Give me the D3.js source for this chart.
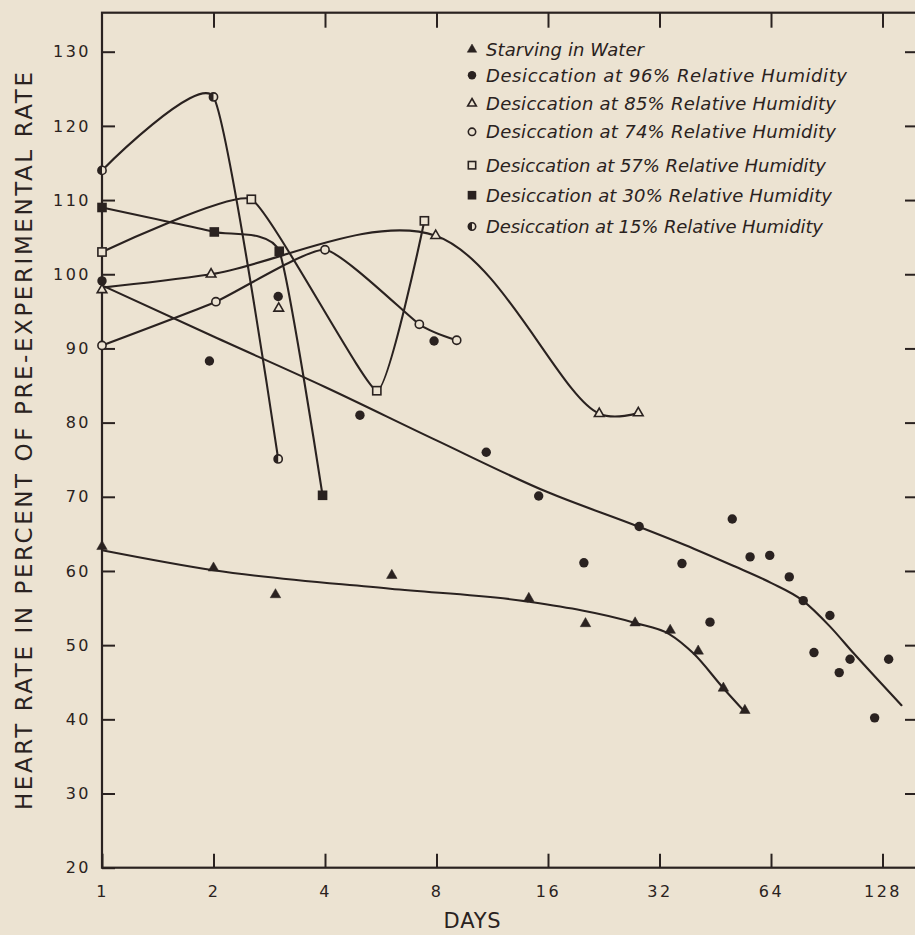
<!DOCTYPE html>
<html><head><meta charset="utf-8">
<script src="https://cdn.jsdelivr.net/npm/d3@7"></script>
<style>
html,body{margin:0;padding:0;background:#ece3d2;}
svg{display:block;}
</style></head><body>
<svg id="chart" width="915" height="935"></svg>
<script>
// ---------- data ----------
const xTickDays = [1, 2, 4, 8, 16, 32, 64, 128];
const yTickRates = [20, 30, 40, 50, 60, 70, 80, 90, 100, 110, 120, 130];
const legendLabels = [
  "Starving in Water",
  "Desiccation at 96% Relative Humidity",
  "Desiccation at 85% Relative Humidity",
  "Desiccation at 74% Relative Humidity",
  "Desiccation at 57% Relative Humidity",
  "Desiccation at 30% Relative Humidity",
  "Desiccation at 15% Relative Humidity"
];

// Starving in water (filled triangles) + hand-fitted curve
const starveDays = [1, 2, 2.94, 6.06, 14.2, 20.2, 27.5, 34.2, 40.7, 47.6, 54.4];
const starveRate = [63.3, 60.4, 56.8, 59.4, 56.3, 52.9, 53.0, 52.0, 49.2, 44.2, 41.2];
const starveCurveDays = [1, 2, 6, 14, 27.5, 34, 39.5, 47.6, 54.4];
const starveCurveRate = [62.8, 60.1, 57.6, 55.9, 53.0, 51.5, 48.9, 44.2, 41.0];

// 96% RH (filled circles) + hand-fitted curve
const rh96Days = [1, 1.95, 2.99, 4.97, 7.88, 10.9, 15.1, 20.0, 28.2, 36.8, 43.8, 50.3, 56.2, 63.5, 71.7, 78.2, 83.6, 92.3, 97.8, 104.6, 121.9, 133];
const rh96Rate = [99.1, 88.3, 97.0, 81.0, 91.0, 76.0, 70.1, 61.1, 66.0, 61.0, 53.1, 67.0, 61.9, 62.1, 59.2, 56.0, 49.0, 54.0, 46.3, 48.1, 40.2, 48.1];
const rh96CurveDays = [1, 2, 4, 8, 16, 28, 39.6, 50.6, 64, 78, 92, 107, 144];
const rh96CurveRate = [98.5, 91.6, 84.8, 77.6, 70.6, 66.0, 63.0, 60.7, 58.4, 56.0, 52.6, 48.9, 41.9];

// 85% RH (open triangles); the day-3 point is not on the curve
const rh85Days = [1, 1.97, 3, 7.96, 22, 28.05];
const rh85Rate = [97.9, 100.0, 95.4, 105.2, 81.2, 81.3];
const rh85CurveDays = [1, 1.97, 7.96, 22, 28.05];
const rh85CurveRate = [98.2, 100.0, 105.2, 81.2, 81.3];

// 74% RH (open circles)
const rh74Days = [1, 2.03, 4, 7.19, 9.07];
const rh74Rate = [90.4, 96.3, 103.3, 93.25, 91.1];

// 57% RH (open squares)
const rh57Days = [1, 2.53, 5.52, 7.42];
const rh57Rate = [103.0, 110.1, 84.3, 107.2];

// 30% RH (filled squares)
const rh30Days = [1, 2.01, 3.01, 3.94];
const rh30Rate = [109.0, 105.7, 103.1, 70.2];

// 15% RH (half-filled circles)
const rh15Days = [1, 2, 2.99];
const rh15Rate = [114.0, 123.9, 75.1];

// ---------- layout / style ----------
const BG = "#ece3d2", INK = "#2a2220";
const plotLeft = 102, plotTop = 12.7, plotBottom = 867.7, plotRight = 917;
const svg = d3.select("#chart");
svg.append("rect").attr("width", 915).attr("height", 935).attr("fill", BG);

const x = d3.scaleLog().base(2).domain([1, 128]).range([102, 882.5]);
const y = d3.scaleLinear().domain([20, 130]).range([867.7, 51.7]);

const axisFont = "'DejaVu Sans', sans-serif";

function styleAxis(g) {
  g.select(".domain").remove();
  g.selectAll(".tick line").attr("stroke", INK).attr("stroke-width", 2);
  g.selectAll(".tick text").attr("fill", INK).attr("font-family", axisFont)
    .attr("font-size", 16).attr("letter-spacing", "2.5px");
}

// left axis
svg.append("g").attr("transform", `translate(${plotLeft},0)`)
  .call(d3.axisLeft(y).tickValues(yTickRates).tickSize(-13).tickPadding(11).tickFormat(d3.format("d")))
  .call(styleAxis);
// right axis ticks (inward)
svg.append("g").attr("transform", `translate(${plotRight},0)`)
  .call(d3.axisRight(y).tickValues(yTickRates.slice(1)).tickSize(-12).tickFormat(""))
  .call(styleAxis);
// bottom axis
svg.append("g").attr("transform", `translate(0,${plotBottom})`)
  .call(d3.axisBottom(x).tickValues(xTickDays).tickSize(-14).tickPadding(18).tickFormat(d3.format("d")))
  .call(styleAxis);
// top axis ticks (inward)
svg.append("g").attr("transform", `translate(0,${plotTop})`)
  .call(d3.axisTop(x).tickValues(xTickDays.slice(1)).tickSize(-15).tickFormat(""))
  .call(styleAxis);

// frame
svg.append("rect").attr("x", plotLeft).attr("y", plotTop)
  .attr("width", plotRight - plotLeft).attr("height", plotBottom - plotTop)
  .attr("fill", "none").attr("stroke", INK).attr("stroke-width", 2.2);

// axis titles
svg.append("text").attr("transform", `translate(31.5,441) rotate(-90)`)
  .attr("text-anchor", "middle").attr("font-family", axisFont).attr("font-size", 23)
  .attr("fill", INK).attr("textLength", 738).attr("lengthAdjust", "spacing")
  .text("HEART RATE IN PERCENT OF PRE-EXPERIMENTAL RATE");
svg.append("text").attr("x", 472.5).attr("y", 928)
  .attr("text-anchor", "middle").attr("font-family", axisFont).attr("font-size", 21)
  .attr("letter-spacing", "0.8px").attr("fill", INK).text("DAYS");

// ---------- markers ----------
function drawMarker(g, kind, cx, cy, scale = 1) {
  const s = scale;
  if (kind === "triFilled" || kind === "triOpen") {
    const open = kind === "triOpen";
    g.append("path").attr("transform", `translate(${cx},${cy})`)
      .attr("d", d3.symbol().type(d3.symbolTriangle).size((open ? 40 : 48) * s * s)())
      .attr("fill", open ? BG : INK).attr("stroke", INK).attr("stroke-width", open ? 1.6 : 0.5);
  } else if (kind === "circFilled") {
    g.append("circle").attr("cx", cx).attr("cy", cy).attr("r", 4.7 * s).attr("fill", INK);
  } else if (kind === "circOpen") {
    g.append("circle").attr("cx", cx).attr("cy", cy).attr("r", 4.1 * s)
      .attr("fill", BG).attr("stroke", INK).attr("stroke-width", 1.6);
  } else if (kind === "circHalf") {
    const r = 4.1 * s;
    g.append("circle").attr("cx", cx).attr("cy", cy).attr("r", r)
      .attr("fill", BG).attr("stroke", INK).attr("stroke-width", 1.6);
    g.append("path").attr("transform", `translate(${cx},${cy})`)
      .attr("d", d3.arc().innerRadius(0).outerRadius(r).startAngle(Math.PI).endAngle(2 * Math.PI)())
      .attr("fill", INK);
  } else if (kind === "sqOpen") {
    const h = 4.1 * s;
    g.append("rect").attr("x", cx - h).attr("y", cy - h).attr("width", 2 * h).attr("height", 2 * h)
      .attr("fill", BG).attr("stroke", INK).attr("stroke-width", 1.6);
  } else if (kind === "sqFilled") {
    const h = 4.8 * s;
    g.append("rect").attr("x", cx - h).attr("y", cy - h).attr("width", 2 * h).attr("height", 2 * h)
      .attr("fill", INK);
  }
}

const series = [
  { days: starveDays, rate: starveRate, cDays: starveCurveDays, cRate: starveCurveRate, marker: "triFilled", curve: d3.curveMonotoneX },
  { days: rh96Days, rate: rh96Rate, cDays: rh96CurveDays, cRate: rh96CurveRate, marker: "circFilled", curve: d3.curveMonotoneX },
  { days: rh85Days, rate: rh85Rate, cDays: rh85CurveDays, cRate: rh85CurveRate, marker: "triOpen", curve: d3.curveCatmullRom.alpha(0.5) },
  { days: rh74Days, rate: rh74Rate, cDays: rh74Days, cRate: rh74Rate, marker: "circOpen", curve: d3.curveCardinal.tension(0.5) },
  { days: rh57Days, rate: rh57Rate, cDays: rh57Days, cRate: rh57Rate, marker: "sqOpen", curve: d3.curveCardinal.tension(0.6) },
  { days: rh30Days, rate: rh30Rate, cDays: rh30Days, cRate: rh30Rate, marker: "sqFilled", curve: d3.curveCardinal.tension(0.5) },
  { days: rh15Days, rate: rh15Rate, cDays: rh15Days, cRate: rh15Rate, marker: "circHalf", curve: d3.curveCardinal.tension(0.5) }
];

const lineG = svg.append("g");
const markG = svg.append("g");
series.forEach(s => {
  const pts = d3.zip(s.cDays, s.cRate);
  lineG.append("path").datum(pts)
    .attr("d", d3.line().x(d => x(d[0])).y(d => y(d[1])).curve(s.curve))
    .attr("fill", "none").attr("stroke", INK).attr("stroke-width", 2.1)
    .attr("stroke-linejoin", "round").attr("stroke-linecap", "round");
});
series.forEach(s => {
  d3.zip(s.days, s.rate).forEach(d => drawMarker(markG, s.marker, x(d[0]), y(d[1])));
});

// ---------- legend ----------
const legendBaselines = [56, 81.7, 110, 138.3, 171.7, 201.7, 233];
const legendWidths = [158, 361, 350, 350, 340, 346, 337];
const legG = svg.append("g");
legendLabels.forEach((lab, i) => {
  drawMarker(legG, series[i].marker, 472, legendBaselines[i] - 6.5, 0.9);
  legG.append("text").attr("x", 486).attr("y", legendBaselines[i])
    .attr("font-family", axisFont).attr("font-style", "italic").attr("font-size", 18)
    .attr("fill", INK).attr("textLength", legendWidths[i]).attr("lengthAdjust", "spacing")
    .text(lab);
});
</script>
</body></html>
